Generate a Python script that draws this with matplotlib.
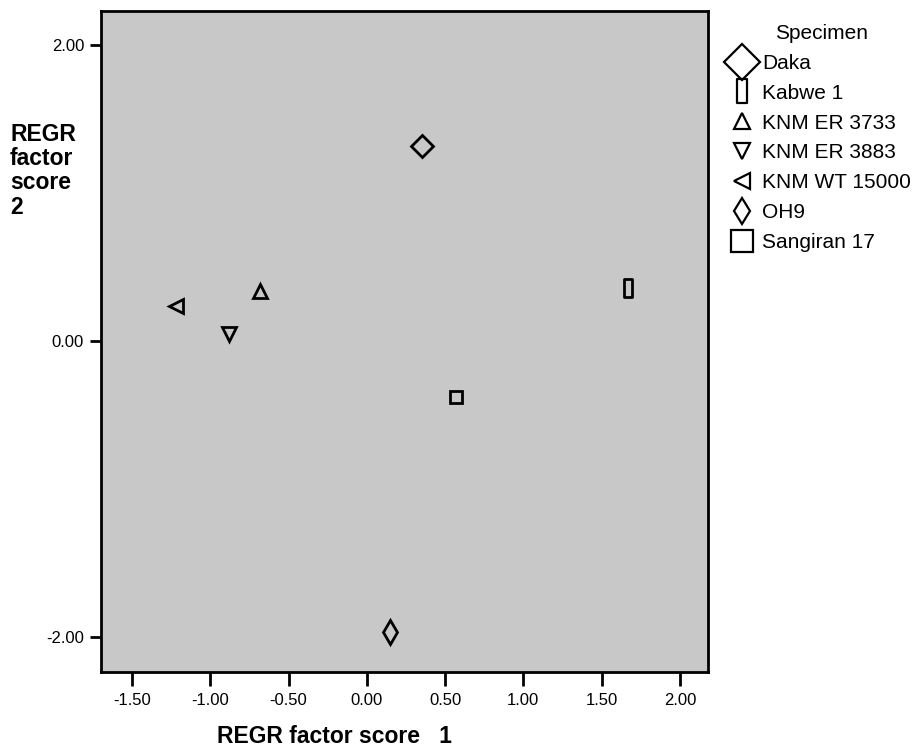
import matplotlib
matplotlib.use("Agg")
import matplotlib.pyplot as plt
from matplotlib.path import Path

plt.rcParams['font.family'] = ['Liberation Sans', 'DejaVu Sans']

# Data
specimens = ['Daka', 'Kabwe 1', 'KNM ER 3733', 'KNM ER 3883', 'KNM WT 15000', 'OH9', 'Sangiran 17']
score1 = [0.35, 1.67, -0.68, -0.88, -1.22, 0.15, 0.57]
score2 = [1.32, 0.36, 0.34, 0.05, 0.24, -1.97, -0.38]
xticks = [-1.5, -1.0, -0.5, 0.0, 0.5, 1.0, 1.5, 2.0]
yticks = [-2.0, 0.0, 2.0]

# Marker styles per specimen
thin_rect = Path([(-0.45, -1), (0.45, -1), (0.45, 1), (-0.45, 1), (-0.45, -1)],
                 [Path.MOVETO, Path.LINETO, Path.LINETO, Path.LINETO, Path.CLOSEPOLY])
markers = ['D', thin_rect, '^', 'v', '<', 'd', 's']
sizes = [11, 13, 10, 10, 10, 12, 8.5]
legend_sizes = [18, 17, 12, 12, 12, 13, 16]

fig = plt.figure(figsize=(9.16, 7.47), dpi=100)
ax = fig.add_axes([0.110, 0.100, 0.663, 0.885])
ax.set_facecolor('#c8c8c8')

for name, x, y, m, s in zip(specimens, score1, score2, markers, sizes):
    ax.plot([x], [y], linestyle='none', marker=m, markersize=s,
            markerfacecolor='none', markeredgecolor='black', markeredgewidth=2)

ax.set_xlim(-1.70, 2.18)
ax.set_ylim(-2.24, 2.23)
ax.set_xticks(xticks)
ax.set_xticklabels([f'{t:.2f}' for t in xticks])
ax.set_yticks(yticks)
ax.set_yticklabels([f'{t:.2f}' for t in yticks])
ax.tick_params(axis='both', direction='out', width=2, labelsize=12)
ax.tick_params(axis='x', length=10, pad=5)
ax.tick_params(axis='y', length=8, pad=4)
for sp in ax.spines.values():
    sp.set_linewidth(2)

fig.text(0.365, 0.006, 'REGR factor score   1', fontsize=16.5, fontweight='bold',
         ha='center', va='baseline')
fig.text(0.011, 0.836, 'REGR\nfactor\nscore\n2', fontsize=16.5, fontweight='bold',
         ha='left', va='top', linespacing=1.08)

# Legend
handles = []
for name, m, s in zip(specimens, markers, legend_sizes):
    h, = ax.plot([], [], linestyle='none', marker=m, markersize=s,
                 markerfacecolor='none', markeredgecolor='black', markeredgewidth=1.6)
    handles.append(h)
leg = fig.legend(handles, specimens, title='Specimen', loc='upper left',
                 bbox_to_anchor=(0.790, 0.979), frameon=False, fontsize=15,
                 title_fontsize=15, handlelength=1.0, handletextpad=0.43,
                 labelspacing=0.52, borderaxespad=0)

fig.savefig('out.png', dpi=100)
